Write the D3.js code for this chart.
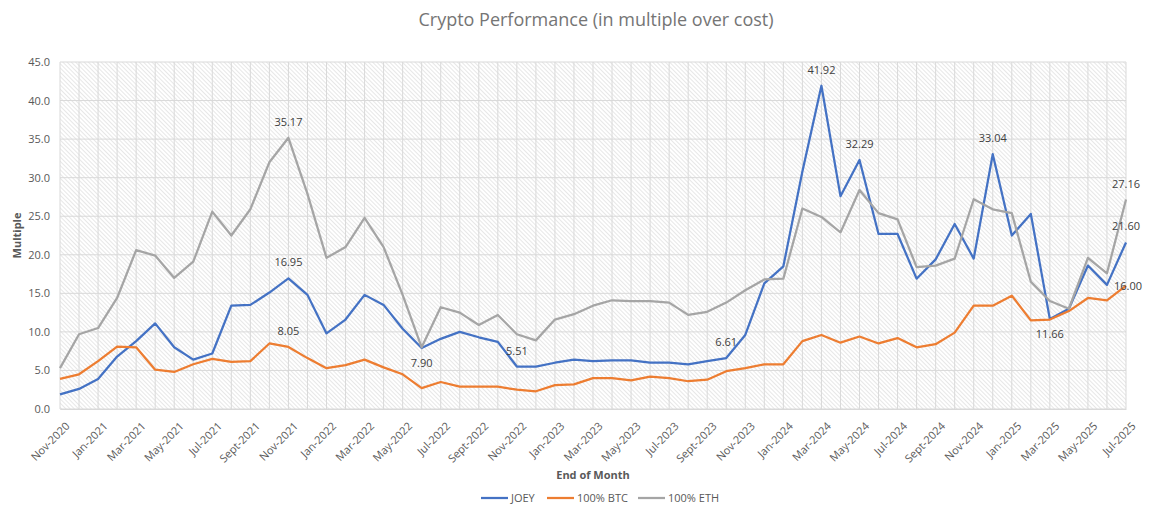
<!DOCTYPE html>
<html>
<head>
<meta charset="utf-8">
<script src="https://cdn.jsdelivr.net/npm/d3@7"></script>
<style>
  body { margin: 0; background: #fff; }
  text { font-family: "Open Sans", "Noto Sans", sans-serif; }
</style>
</head>
<body>
<div id="chart"></div>
<script>
// months on the x axis (end of month)
const months = [
  "Nov-2020","Dec-2020",
  "Jan-2021","Feb-2021","Mar-2021","Apr-2021","May-2021","Jun-2021","Jul-2021","Aug-2021","Sept-2021","Oct-2021","Nov-2021","Dec-2021",
  "Jan-2022","Feb-2022","Mar-2022","Apr-2022","May-2022","Jun-2022","Jul-2022","Aug-2022","Sept-2022","Oct-2022","Nov-2022","Dec-2022",
  "Jan-2023","Feb-2023","Mar-2023","Apr-2023","May-2023","Jun-2023","Jul-2023","Aug-2023","Sept-2023","Oct-2023","Nov-2023","Dec-2023",
  "Jan-2024","Feb-2024","Mar-2024","Apr-2024","May-2024","Jun-2024","Jul-2024","Aug-2024","Sept-2024","Oct-2024","Nov-2024","Dec-2024",
  "Jan-2025","Feb-2025","Mar-2025","Apr-2025","May-2025","Jun-2025","Jul-2025"
];

const joey = [1.9,2.6,3.9,6.8,8.8,11.1,8.0,6.4,7.2,13.4,13.5,15.1,16.95,14.8,9.8,11.6,14.8,13.5,10.4,7.90,
  9.1,10.0,9.3,8.7,5.51,5.5,6.0,6.4,6.2,6.3,6.3,6.0,6.0,5.8,6.2,6.61,9.6,16.3,18.5,30.8,
  41.92,27.6,32.29,22.7,22.7,16.9,19.4,24.0,19.5,33.04,22.5,25.3,11.66,13.0,18.6,16.1,21.60];

const btc = [3.9,4.5,6.2,8.1,8.0,5.1,4.8,5.8,6.5,6.1,6.2,8.5,8.05,6.6,5.3,5.7,6.4,5.4,4.5,2.7,
  3.5,2.9,2.9,2.9,2.5,2.3,3.1,3.2,4.0,4.0,3.7,4.2,4.0,3.6,3.8,4.9,5.3,5.8,5.8,8.8,
  9.6,8.6,9.4,8.5,9.2,8.0,8.4,9.9,13.4,13.4,14.7,11.5,11.6,12.7,14.4,14.1,16.00];

const eth = [5.3,9.7,10.5,14.4,20.6,19.9,17.0,19.1,25.6,22.5,25.9,32.0,35.17,27.9,19.6,21.0,24.8,21.0,14.8,8.0,
  13.2,12.5,10.9,12.2,9.7,8.9,11.6,12.3,13.4,14.1,14.0,14.0,13.8,12.2,12.6,13.8,15.4,16.8,16.9,26.0,
  24.9,22.9,28.4,25.4,24.6,18.4,18.6,19.5,27.2,25.9,25.4,16.5,14.0,13.0,19.6,17.6,27.16];

const yTicks = [0,5,10,15,20,25,30,35,40,45];

// which points carry a value label
const joeyLabelIdx = [12,19,24,35,40,42,49,52,56];
const btcLabelIdx = [12,56];
const ethLabelIdx = [12,56];

const series = [
  {name: "JOEY", values: joey, color: "#4472C4", labels: joeyLabelIdx},
  {name: "100% BTC", values: btc, color: "#ED7D31", labels: btcLabelIdx},
  {name: "100% ETH", values: eth, color: "#A5A5A5", labels: ethLabelIdx}
];

const width = 1149, height = 510;
const margin = {top: 62, right: 23, bottom: 101, left: 60};

const svg = d3.select("#chart").append("svg")
    .attr("width", width)
    .attr("height", height);

// light downward diagonal fill of the plot area
const defs = svg.append("defs");
defs.append("pattern")
    .attr("id", "hatch")
    .attr("patternUnits", "userSpaceOnUse")
    .attr("width", 3)
    .attr("height", 3)
    .attr("patternTransform", "rotate(-45)")
  .append("line")
    .attr("x1", 0).attr("y1", 0)
    .attr("x2", 0).attr("y2", 3)
    .attr("stroke", "#cfcfcf")
    .attr("stroke-width", 1);

const x = d3.scalePoint()
    .domain(months)
    .range([margin.left, width - margin.right]);

const y = d3.scaleLinear()
    .domain([0, 45])
    .range([height - margin.bottom, margin.top]);

svg.append("rect")
    .attr("x", margin.left)
    .attr("y", margin.top)
    .attr("width", width - margin.left - margin.right)
    .attr("height", height - margin.top - margin.bottom)
    .attr("fill", "url(#hatch)");

// gridlines
svg.append("g")
  .selectAll("line")
  .data(months)
  .join("line")
    .attr("x1", d => x(d)).attr("x2", d => x(d))
    .attr("y1", margin.top).attr("y2", height - margin.bottom)
    .attr("stroke", "#d9d9d9");

svg.append("g")
  .selectAll("line")
  .data(yTicks)
  .join("line")
    .attr("x1", margin.left).attr("x2", width - margin.right)
    .attr("y1", d => y(d)).attr("y2", d => y(d))
    .attr("stroke", "#d9d9d9");

// y axis labels
const yAxis = svg.append("g")
    .attr("transform", `translate(${margin.left},0)`)
    .call(d3.axisLeft(y).tickValues(yTicks).tickFormat(d3.format(".1f")).tickSize(0).tickPadding(10));
yAxis.select(".domain").remove();
yAxis.selectAll("text")
    .attr("fill", "#595959")
    .style("font-size", "11px");

// x axis labels, every second month
const xAxis = svg.append("g")
    .attr("transform", `translate(0,${height - margin.bottom})`)
    .call(d3.axisBottom(x).tickValues(months.filter((d, i) => i % 2 === 0)).tickSize(0));
xAxis.select(".domain").attr("stroke", "#d9d9d9");
xAxis.selectAll("text")
    .attr("fill", "#595959")
    .style("font-size", "11px")
    .attr("text-anchor", "end")
    .attr("dy", "0.35em")
    .attr("transform", "translate(5,13) rotate(-45)");

// lines
const line = d3.line()
    .x((d, i) => x(months[i]))
    .y(d => y(d));

svg.append("g")
  .selectAll("path")
  .data(series)
  .join("path")
    .attr("d", d => line(d.values))
    .attr("fill", "none")
    .attr("stroke", d => d.color)
    .attr("stroke-width", 2.25)
    .attr("stroke-linejoin", "round");

// value labels
const labelData = [];
series.forEach(s => {
  s.labels.forEach(i => {
    const prev = s.values[i - 1], next = s.values[i + 1];
    const isLow = (prev !== undefined && s.values[i] < prev) && (next === undefined || s.values[i] < next);
    labelData.push({v: s.values[i], i: i, below: isLow && s.name === "JOEY", name: s.name});
  });
});

svg.append("g")
  .selectAll("text")
  .data(labelData)
  .join("text")
    .attr("x", d => x(months[d.i]) + (d.name === "100% BTC" && d.i === 56 ? 2 : 0))
    .attr("y", d => {
      if (d.name === "100% BTC" && d.i === 56) return y(d.v) + 4;
      return d.below ? y(d.v) + 19 : y(d.v) - 12;
    })
    .attr("text-anchor", "middle")
    .attr("fill", "#404040")
    .style("font-size", "11px")
    .text(d => d3.format(".2f")(d.v));

// titles
svg.append("text")
    .attr("x", 596)
    .attr("y", 26)
    .attr("text-anchor", "middle")
    .attr("fill", "#757575")
    .style("font-size", "18px")
    .text("Crypto Performance (in multiple over cost)");

svg.append("text")
    .attr("transform", `translate(21,${(margin.top + height - margin.bottom) / 2}) rotate(-90)`)
    .attr("text-anchor", "middle")
    .attr("fill", "#595959")
    .style("font-size", "11px")
    .style("font-weight", "bold")
    .text("Multiple");

svg.append("text")
    .attr("x", (margin.left + width - margin.right) / 2)
    .attr("y", 479)
    .attr("text-anchor", "middle")
    .attr("fill", "#595959")
    .style("font-size", "11px")
    .style("font-weight", "bold")
    .text("End of Month");

// legend
const legendX = [481, 547, 638];
const legend = svg.append("g")
  .selectAll("g")
  .data(series)
  .join("g")
    .attr("transform", (d, i) => `translate(${legendX[i]},498)`);

legend.append("line")
    .attr("x1", 0).attr("x2", 27)
    .attr("stroke", d => d.color)
    .attr("stroke-width", 2.25);

legend.append("text")
    .attr("x", 30)
    .attr("dy", "0.35em")
    .attr("fill", "#595959")
    .style("font-size", "11px")
    .text(d => d.name);
</script>
</body>
</html>
